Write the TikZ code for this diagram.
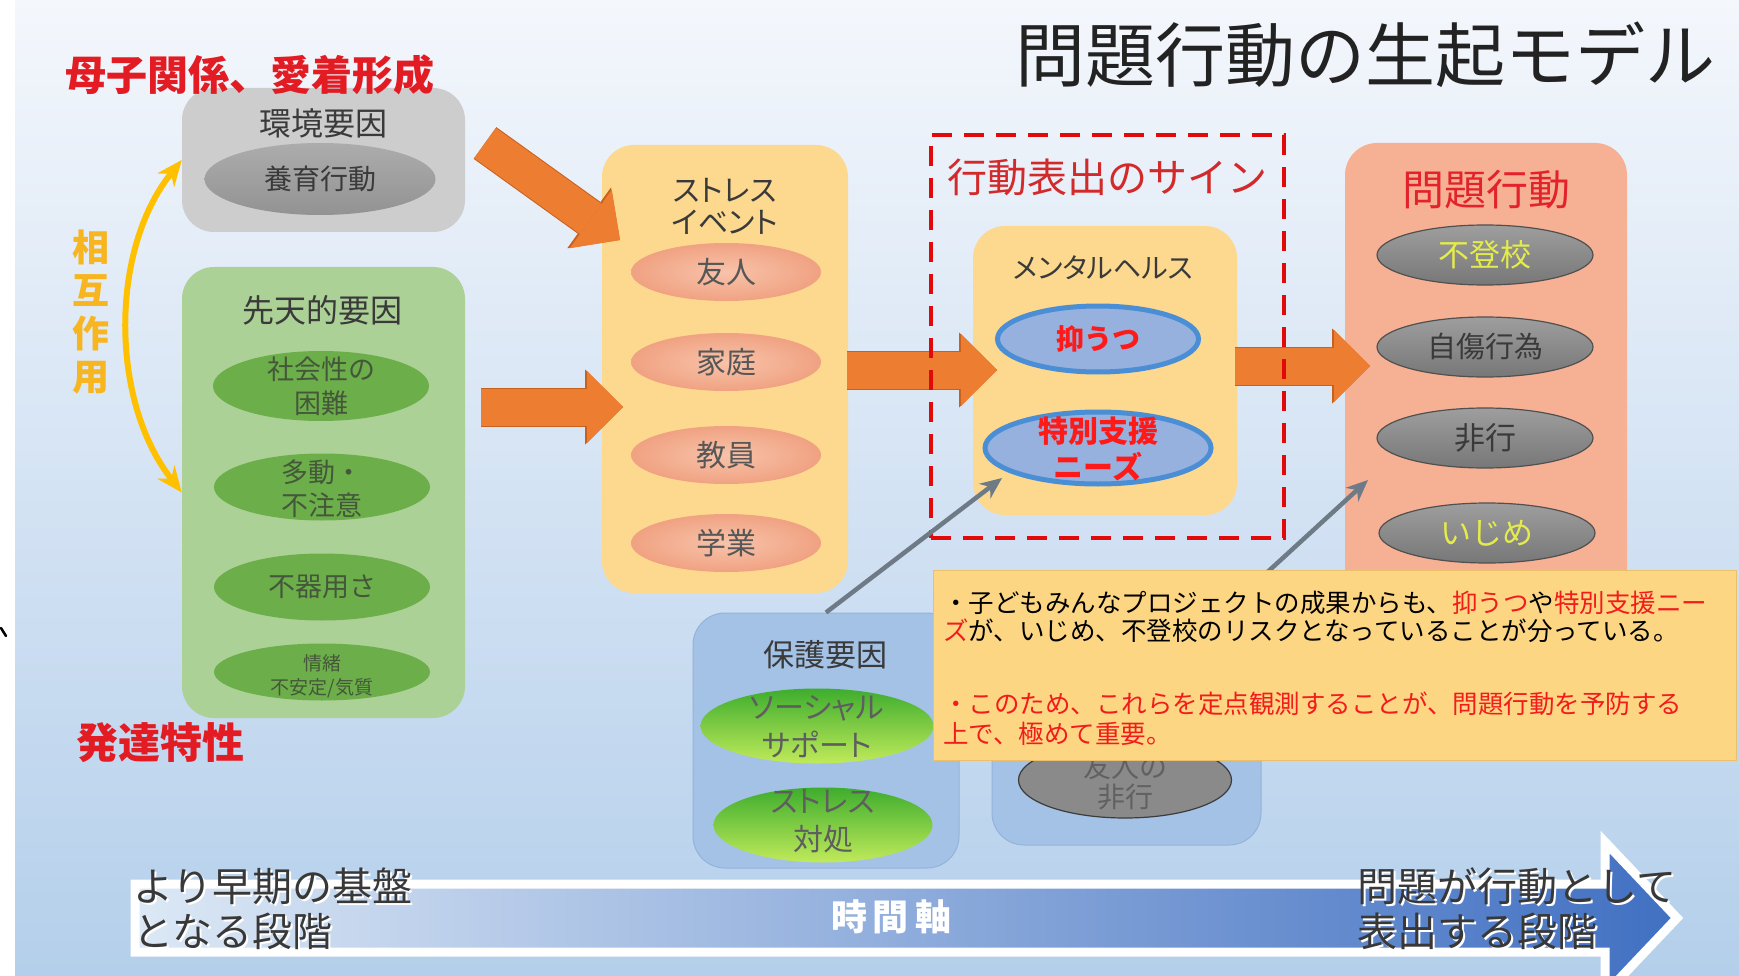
\documentclass[tikz,border=0pt]{standalone}
\usepackage{fontspec}
\newfontfamily\jp{Noto Sans CJK JP}
\newfontfamily\jpp[RawFeature=+palt]{Noto Sans CJK JP}
\usetikzlibrary{shapes.geometric,arrows.meta}
\newcommand\jsz[2]{\fontsize{#1pt}{#2pt}\selectfont}
\definecolor{bgtop}{HTML}{F4F7FC}
\definecolor{bgbot}{HTML}{B4CFEB}
\definecolor{titleC}{HTML}{222222}
\definecolor{redT}{HTML}{E31B23}
\definecolor{goldT}{HTML}{F7B520}
\definecolor{goldA}{HTML}{FFC000}
\definecolor{grayBox}{HTML}{CDCDCD}
\definecolor{greenBox}{HTML}{ACD196}
\definecolor{greenEl}{HTML}{6CAE4A}
\definecolor{greenT}{HTML}{44573A}
\definecolor{yelBox}{HTML}{FDD98F}
\definecolor{salIn}{HTML}{F8C3AA}
\definecolor{salOut}{HTML}{F0A282}
\definecolor{probBox}{HTML}{F6B195}
\definecolor{redP}{HTML}{E3232B}
\definecolor{pTop}{HTML}{9E9E9E}
\definecolor{pBot}{HTML}{777777}
\definecolor{pRim}{HTML}{505050}
\definecolor{pYel}{HTML}{E4EC4C}
\definecolor{blueBox}{HTML}{A4C2E6}
\definecolor{blueBoxD}{HTML}{93B3DC}
\definecolor{blueEl}{HTML}{97B1DE}
\definecolor{blueRim}{HTML}{4A8ED6}
\definecolor{redB}{HTML}{FF1A1A}
\definecolor{redD}{HTML}{E00A0A}
\definecolor{redS}{HTML}{D22A2A}
\definecolor{noteBox}{HTML}{FDD684}
\definecolor{noteD}{HTML}{EBC06A}
\definecolor{redN}{HTML}{F21C1C}
\definecolor{grayArrow}{HTML}{6E7A86}
\definecolor{orangeA}{HTML}{ED7D31}
\definecolor{orangeD}{HTML}{C8601E}
\definecolor{axL}{HTML}{DCE8F5}
\definecolor{axM}{HTML}{A3BFE4}
\definecolor{axR}{HTML}{4170C2}
\definecolor{lblC}{HTML}{383838}
\definecolor{ssTop}{HTML}{3EAD2E}
\definecolor{ssMid}{HTML}{70D03C}
\definecolor{ssBot}{HTML}{C0EA5A}
\definecolor{grayT}{HTML}{5E5E5E}
\definecolor{grayEl}{HTML}{8A8A8A}
\definecolor{grayElD}{HTML}{3C3C3C}
\definecolor{darkT}{HTML}{3A3A3A}
\begin{document}
\begin{tikzpicture}[x=1pt,y=-1pt,font=\jp,
  tx/.style={inner sep=0pt, align=center},
  box/.style={rectangle, rounded corners=32pt, inner sep=0pt},
  ov/.style={ellipse, inner sep=0pt},
  salel/.style={ov, inner color=salIn, outer color=salOut, minimum width=190pt, minimum height=58pt},
  grel/.style={ov, fill=greenEl, minimum width=216pt},
  pel/.style={ov, top color=pTop, bottom color=pBot, draw=pRim, line width=1.2pt, minimum width=216pt, minimum height=60pt},
  blel/.style={ov, fill=blueEl, draw=blueRim, line width=5pt},
  ssel/.style={ov, top color=ssTop, middle color=ssMid, bottom color=ssBot},
  barrowo/.style={draw=orangeD, line width=39pt, -{Triangle[length=38pt,width=75pt,line width=0pt]}},
  barrow/.style={draw=orangeA, line width=37pt, -{Triangle[length=36pt,width=72pt,line width=0pt]}},
  garrow/.style={draw=grayArrow, line width=4.5pt, -{Stealth[length=22pt,width=19pt,line width=0pt]}},
  yarrow/.style={draw=goldA, line width=6pt, {Stealth[length=26pt,width=22pt,line width=0pt]}-{Stealth[length=26pt,width=22pt,line width=0pt]}}
]
\useasboundingbox (0,0) rectangle (1739,976);
\fill[top color=bgtop,bottom color=bgbot] (0,0) rectangle (1739,976);
\fill[white] (0,0) rectangle (15,976);
\draw[line width=2.5pt, line cap=round] (1,628) -- (6,636);

% title
\node[tx, font=\jp\jsz{70}{80}, text=titleC] (title) at (1365,55) {問題行動の生起モデル};

% environment box
\node[box, fill=grayBox, minimum width=283pt, minimum height=144pt] (env) at (323.5,160) {};
\node[tx, font=\jp\jsz{32}{36}, text=darkT] (envT) at (323,123) {環境要因};
\node[ov, top color=gray!65, middle color=gray!45, bottom color=gray!85, minimum width=231pt, minimum height=72pt] (yoiku) at (320,179) {};
\node[tx, font=\jp\jsz{28}{30}, text=darkT] (yoikuT) at (yoiku) {養育行動};

% innate box
\node[box, fill=greenBox, minimum width=283pt, minimum height=451pt] (innate) at (323.5,492.5) {};
\node[tx, font=\jp\jsz{32}{36}, text=darkT] (innateT) at (322,310) {先天的要因};
\node[grel, minimum height=70pt] (g1) at (321,386) {};
\node[tx, font=\jp\jsz{27}{34}, text=greenT] (g1t) at (g1) {社会性の\\困難};
\node[grel, minimum height=67pt] (g2) at (322,487) {};
\node[tx, font=\jp\jsz{27}{33}, text=greenT] (g2t) at (322,488.5) {多動・\\不注意};
\node[grel, minimum height=67pt] (g3) at (322,587) {};
\node[tx, font=\jp\jsz{27}{30}, text=greenT] (g3t) at (g3) {不器用さ};
\node[grel, minimum height=57pt] (g4) at (322,672) {};
\node[tx, font=\jp\jsz{19}{24}, text=greenT] (g4t) at (322,676) {情緒\\不安定/気質};

% side labels (drawn above the boxes)
\node[tx, font=\jp\bfseries\jsz{41}{48}, text=redT] (boshi) at (250,75) {母子関係、愛着形成};
\node[tx, font=\jp\bfseries\jsz{42}{48}, text=redT] (hattatsu) at (160,743) {発達特性};
\node[tx, font=\jp\bfseries\jsz{37}{43}, text=goldT] (sogo) at (91,312) {相\\互\\作\\用};

\draw[yarrow] (env.west) .. controls (110,250) and (110,400) .. (innate.west);

% stress box
\node[box, fill=yelBox, minimum width=246pt, minimum height=448pt] (stress) at (725,369) {};
\node[tx, font=\jpp\jsz{30}{32}, text=darkT] (stressT) at (725,206) {ストレス\\イベント};
\node[salel] (s1) at (726,272) {};
\node[tx, font=\jp\jsz{30}{32}, text=darkT!85] (s1t) at (s1) {友人};
\node[salel] (s2) at (726,362) {};
\node[tx, font=\jp\jsz{30}{32}, text=darkT!85] (s2t) at (s2) {家庭};
\node[salel] (s3) at (726,455) {};
\node[tx, font=\jp\jsz{30}{32}, text=darkT!85] (s3t) at (s3) {教員};
\node[salel] (s4) at (726,543) {};
\node[tx, font=\jp\jsz{30}{32}, text=darkT!85] (s4t) at (s4) {学業};

% mental box
\node[box, fill=yelBox, minimum width=264pt, minimum height=289pt] (mental) at (1105,370.5) {};
\node[tx, font=\jpp\jsz{28}{30}, text=darkT] (mentalT) at (1103,268) {メンタルヘルス};
\node[blel, minimum width=201pt, minimum height=66pt] (dep) at (1098,339) {};
\node[tx, font=\jp\bfseries\jsz{28}{30}, text=redB] (depT) at (dep) {抑うつ};
\node[blel, minimum width=226pt, minimum height=72pt] (sn) at (1098,448) {};
\node[tx, font=\jp\bfseries\jsz{30}{36}, text=redB] (snT) at (1098,449) {特別支援\\ニーズ};

% problem box
\node[box, fill=probBox, minimum width=282pt, minimum height=457pt] (prob) at (1486,371.5) {};
\node[tx, font=\jp\jsz{42}{46}, text=redP] (probT) at (1486,190) {問題行動};
\node[pel] (p1) at (1485,255) {};
\node[tx, font=\jp\jsz{31}{33}, text=pYel] (p1t) at (p1) {不登校};
\node[pel] (p2) at (1485,347) {};
\node[tx, font=\jp\jsz{29}{33}, text=darkT] (p2t) at (p2) {自傷行為};
\node[pel] (p3) at (1485,438) {};
\node[tx, font=\jp\jsz{31}{33}, text=darkT] (p3t) at (p3) {非行};
\node[pel] (p4) at (1487,533) {};
\node[tx, font=\jp\jsz{31}{33}, text=pYel] (p4t) at (p4) {いじめ};

% orange block arrows
\coordinate (aA1) at (485,143); \coordinate (aA2) at (620,240);
\coordinate (aB1) at (481,407); \coordinate (aB2) at (623,407);
\coordinate (aC1) at (847,370); \coordinate (aC2) at (997,370);
\coordinate (aD1) at (1235,366); \coordinate (aD2) at (1370,366);
\foreach \p in {A,B,C,D}{
  \draw[barrowo] (a\p1) -- (a\p2);
  \draw[barrow] (a\p1) -- (a\p2);
}

% sign box
\node[draw=redD, line width=4.5pt, dash pattern=on 20pt off 12pt, minimum width=353pt, minimum height=403pt, inner sep=0pt] (sign) at (1107.5,336.5) {};
\node[tx, font=\jp\jsz{40}{44}, text=redS] (signT) at (1107,177) {行動表出のサイン};

% protective box
\node[box, fill=blueBox, draw=blueBoxD, line width=1pt, minimum width=266pt, minimum height=255pt] (prot) at (826,740.5) {};
\node[tx, font=\jp\jsz{31}{34}, text=darkT] (protT) at (825,655) {保護要因};
\node[ssel, minimum width=233pt, minimum height=75pt] (ss) at (817,726) {};
\node[tx, font=\jpp\jsz{30}{38}, text=grayT] (ssT) at (817,727) {ソーシャル\\サポート};
\node[ssel, minimum width=219pt, minimum height=75pt] (sc) at (823,825) {};
\node[tx, font=\jpp\jsz{30}{38}, text=grayT] (scT) at (823,821) {ストレス\\対処};

% friend delinquency box
\node[box, fill=blueBox, draw=blueBoxD, line width=1pt, minimum width=269pt, minimum height=180pt] (frb) at (1126.5,755) {};
\node[ov, fill=grayEl, draw=grayElD, line width=1.2pt, minimum width=213pt, minimum height=76pt] (fr) at (1125,780) {};
\node[tx, font=\jp\jsz{28}{30}, text=darkT!80] (frT) at (1125,782) {友人の\\非行};

% gray arrows
\coordinate (g1tip) at (1002,478);
\coordinate (g2start) at (1166,665);
\coordinate (g2tip) at (1368,480);
\draw[garrow] (prot.north) -- (g1tip);
\draw[garrow] (g2start) -- (g2tip);

% note box
\node[rectangle, fill=noteBox, draw=noteD, line width=0.8pt, minimum width=803pt, minimum height=190pt, inner sep=0pt] (note) at (1334.5,665) {};
\node[tx, anchor=base west, font=\jp\jsz{25.5}{29}, text=black] (n1) at (943,612.5) {・子どもみんなプロジェクトの成果からも、\textcolor{redN}{抑うつ}や\textcolor{redN}{特別支援ニー}};
\node[tx, anchor=base west, font=\jp\jsz{25.5}{29}, text=black] (n2) at (943,640) {\textcolor{redN}{ズ}が、いじめ、不登校のリスクとなっていることが分っている。};
\node[tx, anchor=base west, font=\jp\jsz{25.5}{29}, text=redN] (n3) at (943,713) {・このため、これらを定点観測することが、問題行動を予防する};
\node[tx, anchor=base west, font=\jp\jsz{25.5}{29}, text=redN] (n4) at (943,743) {上で、極めて重要。};

% time axis
\path[draw=white, line width=9pt, line join=miter, left color=axL, middle color=axM, right color=axR]
  (135,884) -- (1605,884) -- (1605,842) -- (1677,918) -- (1605,994) -- (1605,952) -- (135,952) -- cycle;
\node[tx, font=\jp\bfseries\jsz{36}{40}, text=white] (axT) at (891,917) {時\hspace{6pt}間\hspace{6pt}軸};
\node[tx, anchor=west, align=left, font=\jp\jsz{40}{45}, text=white] (earlyS) at (135,910.5) {より早期の基盤\\となる段階};
\node[tx, anchor=west, align=left, font=\jp\jsz{40}{45}, text=lblC] (early) at (133,908.5) {より早期の基盤\\となる段階};
\node[tx, anchor=west, align=left, font=\jp\jsz{40}{45}, text=white] (lateS) at (1359,910.5) {問題が行動として\\表出する段階};
\node[tx, anchor=west, align=left, font=\jp\jsz{40}{45}, text=lblC] (late) at (1357,908.5) {問題が行動として\\表出する段階};
\end{tikzpicture}
\end{document}
